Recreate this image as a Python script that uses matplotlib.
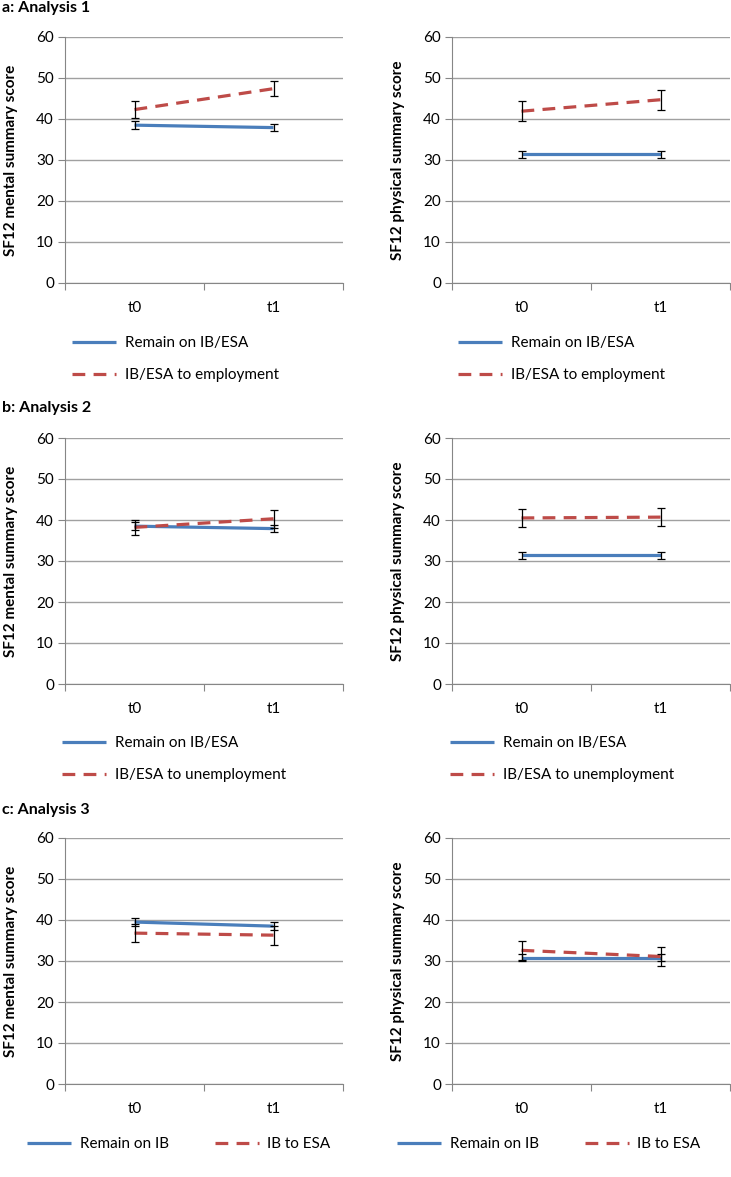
import matplotlib
matplotlib.use("Agg")
import matplotlib.pyplot as plt

plt.rcParams['font.family'] = ['Lato', 'DejaVu Sans']

W, H = 731, 1177

times = ['t0', 't1']

# analysis 1
a_remain = [38.5, 37.9]
a_remain_err = [0.9, 0.8]
a_emp_mental = [42.3, 47.4]
a_emp_mental_err = [2.0, 1.9]
a_remain_phys = [31.4, 31.4]
a_remain_phys_err = [0.85, 0.85]
a_emp_phys = [41.9, 44.7]
a_emp_phys_err = [2.4, 2.4]

# analysis 2
b_remain = [38.5, 37.9]
b_remain_err = [0.9, 0.8]
b_unemp_mental = [38.2, 40.3]
b_unemp_mental_err = [1.9, 2.2]
b_remain_phys = [31.4, 31.4]
b_remain_phys_err = [0.85, 0.85]
b_unemp_phys = [40.5, 40.7]
b_unemp_phys_err = [2.2, 2.2]

# analysis 3
c_remain = [39.5, 38.5]
c_remain_err = [0.9, 0.9]
c_esa_mental = [36.8, 36.3]
c_esa_mental_err = [2.2, 2.3]
c_remain_phys = [30.8, 30.8]
c_remain_phys_err = [0.9, 0.9]
c_esa_phys = [32.6, 31.1]
c_esa_phys_err = [2.4, 2.3]

BLUE = '#4A7EBB'
RED = '#BE4B48'
GRID = '#A0A0A0'

fig = plt.figure(figsize=(W / 100, H / 100), dpi=100)


def px_axes(x0, y0, x1, y1):
    return fig.add_axes([x0 / W, 1 - y1 / H, (x1 - x0) / W, (y1 - y0) / H])


def panel(x0, y0, x1, y1, blue, blue_err, red, red_err, ylabel, labels,
          leg_x, leg_y, ncol):
    ax = px_axes(x0, y0, x1, y1)
    xs = [0, 1]
    ax.plot(xs, blue, color=BLUE, lw=2.3, label=labels[0], zorder=3,
            solid_capstyle='butt')
    ax.plot(xs, red, color=RED, lw=2.3, ls=(0, (4, 2.6)), label=labels[1],
            zorder=4)
    ax.errorbar(xs, blue, yerr=blue_err, fmt='none', ecolor='black',
                elinewidth=0.9, capsize=2.6, capthick=0.9, zorder=5)
    ax.errorbar(xs, red, yerr=red_err, fmt='none', ecolor='black',
                elinewidth=0.9, capsize=2.6, capthick=0.9, zorder=5)
    ax.set_xlim(-0.5, 1.5)
    ax.set_ylim(0, 60)
    ax.set_yticks(range(0, 61, 10))
    ax.yaxis.grid(True, color=GRID, lw=1)
    ax.set_axisbelow(True)
    ax.set_xticks([-0.5, 0.5, 1.5])
    ax.set_xticklabels([])
    ax.set_xticks(xs, minor=True)
    ax.set_xticklabels(times, minor=True)
    ax.tick_params(axis='x', which='major', length=5, color='#868686')
    ax.tick_params(axis='x', which='minor', length=0, pad=13, labelsize=11)
    ax.tick_params(axis='y', length=5, color='#868686', labelsize=11, pad=3)
    for s in ['top', 'right']:
        ax.spines[s].set_visible(False)
    for s in ['left', 'bottom']:
        ax.spines[s].set_color('#868686')
    ax.set_ylabel(ylabel, fontsize=11, fontweight='bold')
    ax.yaxis.set_label_coords(-0.17, 0.5)
    ax.legend(loc='upper left', bbox_to_anchor=(leg_x / W, 1 - leg_y / H),
              bbox_transform=fig.transFigure, frameon=False, ncol=ncol,
              fontsize=11, handlelength=2.9, handletextpad=0.55,
              labelspacing=1.2, columnspacing=3.0, borderaxespad=0)
    return ax


mental = 'SF12 mental summary score'
physical = 'SF12 physical summary score'

fig.text(2 / W, 1 - 8 / H, 'a: Analysis 1', fontsize=11.5, fontweight='bold',
         va='center', ha='left')
panel(65, 37, 343, 283, a_remain, a_remain_err, a_emp_mental,
      a_emp_mental_err, mental, ['Remain on IB/ESA', 'IB/ESA to employment'],
      66, 330, 1)
panel(452, 37, 730, 283, a_remain_phys, a_remain_phys_err, a_emp_phys,
      a_emp_phys_err, physical, ['Remain on IB/ESA', 'IB/ESA to employment'],
      452, 330, 1)

fig.text(2 / W, 1 - 408 / H, 'b: Analysis 2', fontsize=11.5, fontweight='bold',
         va='center', ha='left')
panel(65, 438, 343, 684, b_remain, b_remain_err, b_unemp_mental,
      b_unemp_mental_err, mental, ['Remain on IB/ESA', 'IB/ESA to unemployment'],
      56, 730, 1)
panel(452, 438, 730, 684, b_remain_phys, b_remain_phys_err, b_unemp_phys,
      b_unemp_phys_err, physical, ['Remain on IB/ESA', 'IB/ESA to unemployment'],
      444, 730, 1)

fig.text(2 / W, 1 - 810 / H, 'c: Analysis 3', fontsize=11.5, fontweight='bold',
         va='center', ha='left')
panel(65, 838, 343, 1084, c_remain, c_remain_err, c_esa_mental,
      c_esa_mental_err, mental, ['Remain on IB', 'IB to ESA'],
      21, 1131, 2)
panel(452, 838, 730, 1084, c_remain_phys, c_remain_phys_err, c_esa_phys,
      c_esa_phys_err, physical, ['Remain on IB', 'IB to ESA'],
      391, 1131, 2)

fig.savefig('out.png', dpi=100)
